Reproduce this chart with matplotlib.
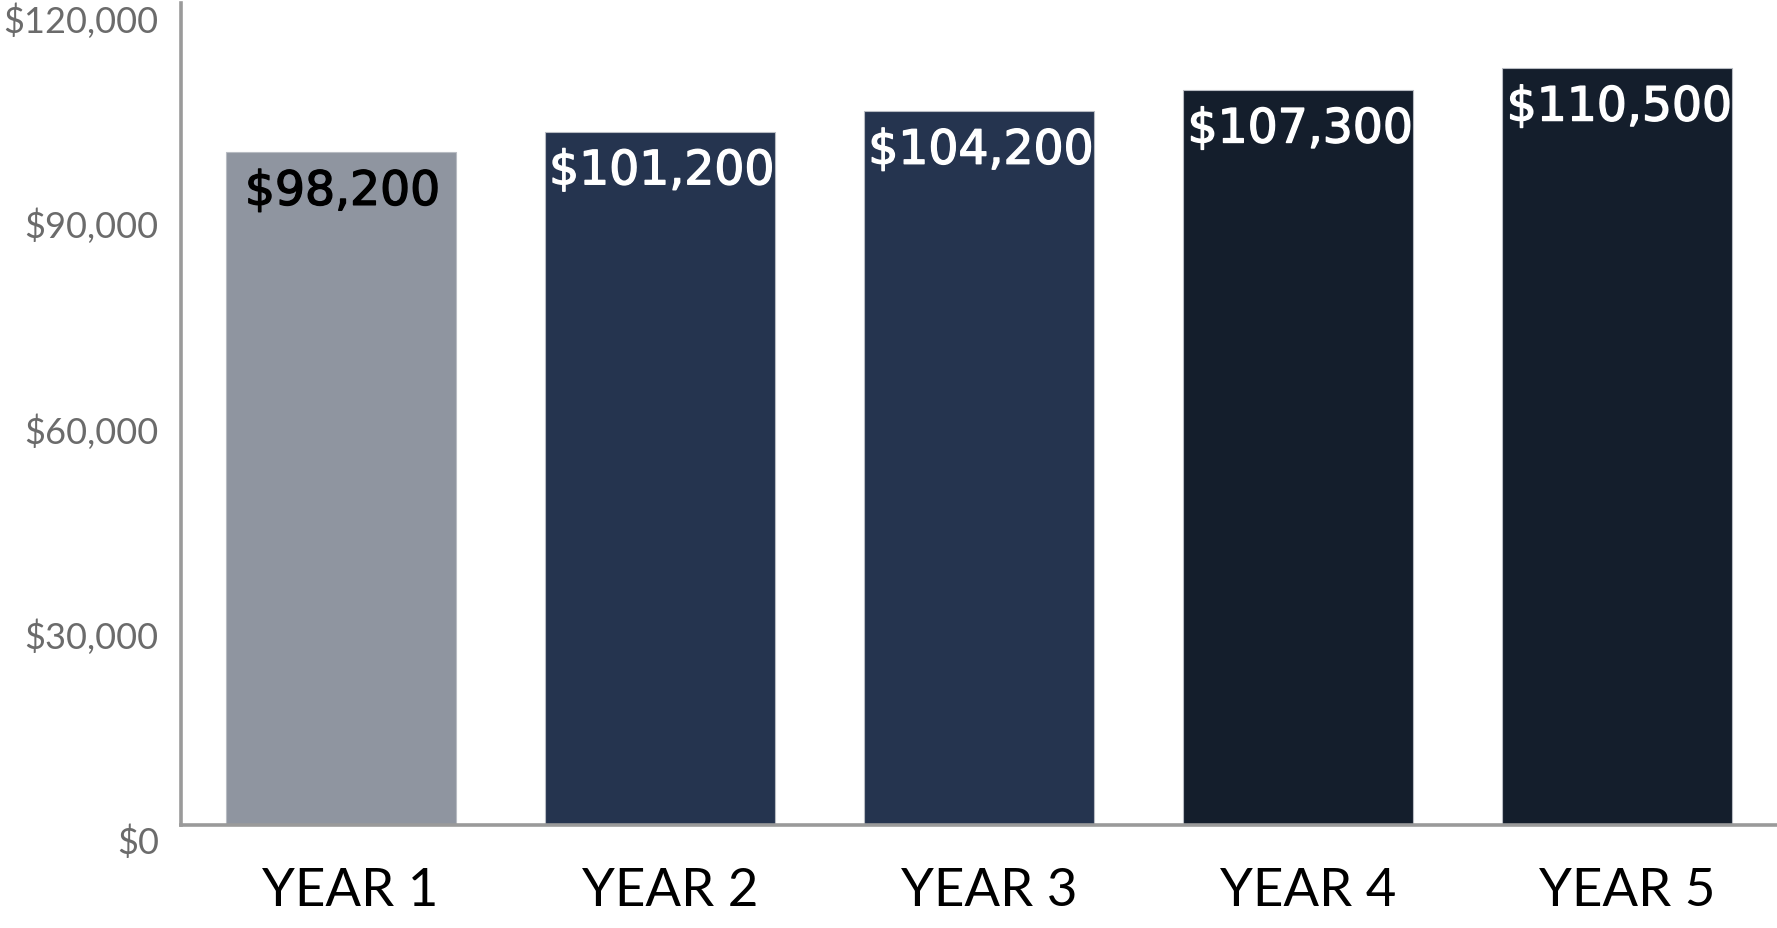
import matplotlib
matplotlib.use("Agg")
import matplotlib.pyplot as plt
import matplotlib.transforms as mtransforms
import matplotlib.patheffects as pe

years = ["YEAR 1", "YEAR 2", "YEAR 3", "YEAR 4", "YEAR 5"]
salaries = [98200, 101200, 104200, 107300, 110500]
bar_colors = ["#8f95a0", "#25344f", "#25344f", "#141e2c", "#141e2c"]
label_colors = ["#000000", "#ffffff", "#ffffff", "#ffffff", "#ffffff"]
y_ticks = [0, 30000, 60000, 90000, 120000]

plt.rcParams['font.family'] = ['Lato', 'DejaVu Sans']

fig = plt.figure(figsize=(17.77, 9.29), dpi=100)
ax = fig.add_axes([181 / 1777, 103 / 929, 1 - 181 / 1777, 822 / 929])

x = range(len(years))
ax.bar(x, salaries, width=0.72, color=bar_colors, edgecolor="#b8bcc3", linewidth=0.8)

for i, v in enumerate(salaries):
    # thin stroke in the text colour to get a medium weight
    ax.annotate("${:,}".format(v), (i, v), xytext=(2, -40), textcoords="offset pixels",
                ha="center", va="center", fontsize=34, family="DejaVu Sans",
                color=label_colors[i],
                path_effects=[pe.withStroke(linewidth=1.0, foreground=label_colors[i])])

ax.set_xlim(-0.5, len(years) - 0.5)
ax.set_ylim(0, 120000)
ax.set_xticks(list(x))
ax.set_xticklabels(years, fontsize=38, color="#000000")
ax.set_yticks(y_ticks)
ax.set_yticklabels(["${:,}".format(t) for t in y_ticks], fontsize=26, color="#6b6b6b")
ax.tick_params(axis="both", length=0)
ax.tick_params(axis="x", pad=30)
ax.tick_params(axis="y", pad=16)

# labels in the original sit slightly off their ticks
y_shift = mtransforms.ScaledTranslation(0, -14 / 100, fig.dpi_scale_trans)
for lab in ax.get_yticklabels():
    lab.set_transform(lab.get_transform() + y_shift)
x_shift = mtransforms.ScaledTranslation(10 / 100, 0, fig.dpi_scale_trans)
for lab in ax.get_xticklabels():
    lab.set_transform(lab.get_transform() + x_shift)

for side in ["top", "right"]:
    ax.spines[side].set_visible(False)
for side in ["left", "bottom"]:
    ax.spines[side].set_color("#9a9a9a")
    ax.spines[side].set_linewidth(2.6)

fig.savefig("out.png", dpi=100)
